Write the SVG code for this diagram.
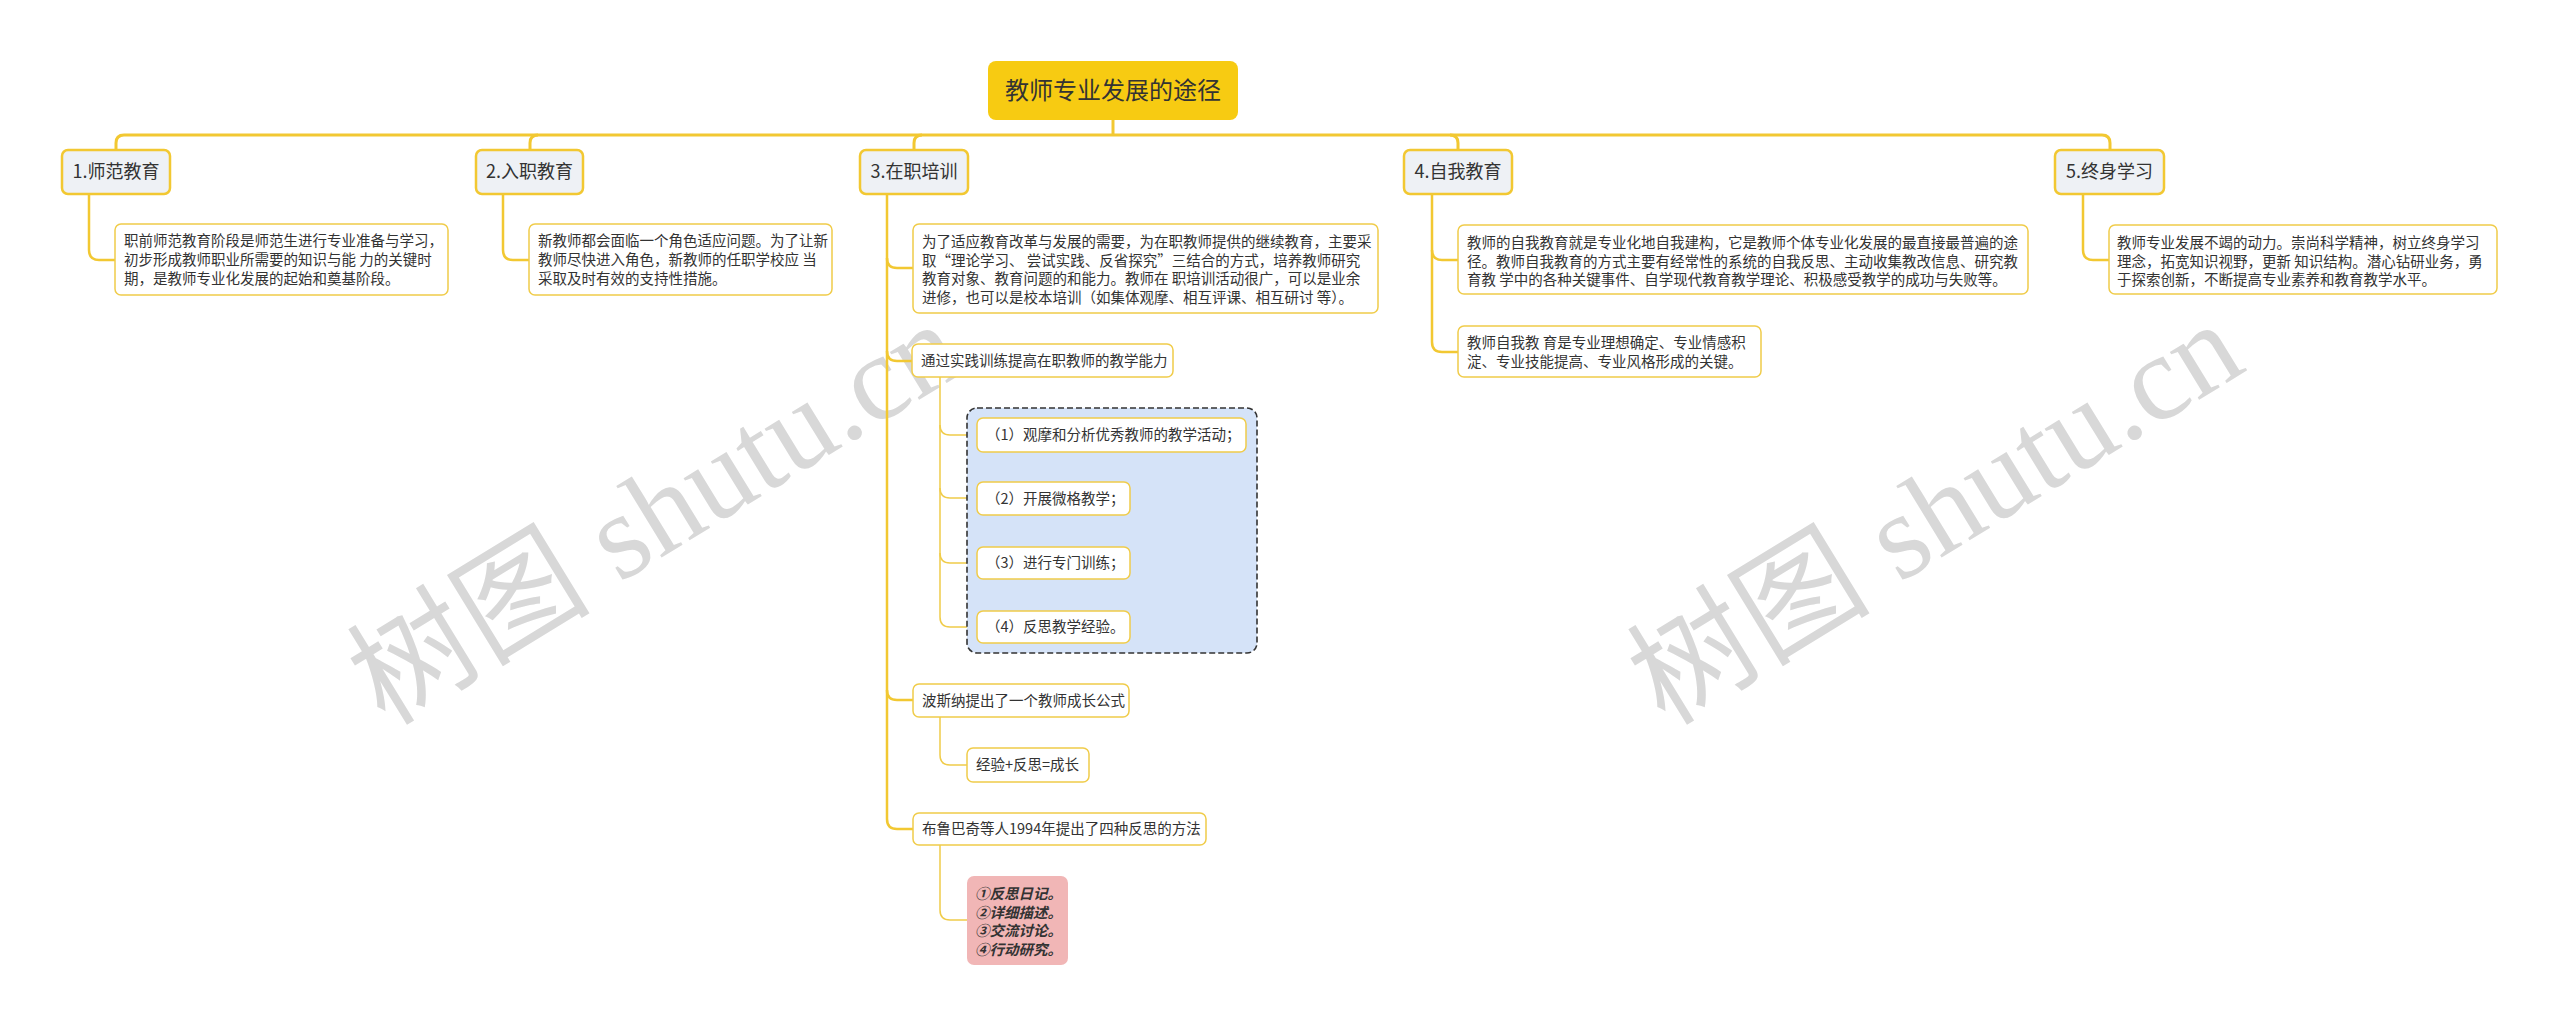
<svg xmlns="http://www.w3.org/2000/svg" width="2560" height="1027" viewBox="0 0 2560 1027">
<style>
text{font-family:"Noto Sans CJK SC","Noto Sans",sans-serif;fill:#333}
.root{fill:#f7cb12}
.rt{font-size:24px;text-anchor:middle}
.main{fill:#eef1f5;stroke:#f2c832;stroke-width:2.5}
.mt{font-size:18px;text-anchor:middle}
.box{fill:#fff;stroke:#f0cc4a;stroke-width:1.5}
.t{font-size:14.5px}
.c1{fill:none;stroke:#f2c832;stroke-width:3}
.c2{fill:none;stroke:#f2c832;stroke-width:2.5}
.c3{fill:none;stroke:#f0cc4a;stroke-width:1.5}
.grp{fill:#d5e3f8;stroke:#333;stroke-width:1.6;stroke-dasharray:6 3}
.pink{fill:#f1b6b6}
.pt{font-size:14.5px;font-weight:bold;font-style:italic}
.wm{font-family:"Liberation Serif","Noto Sans CJK SC",serif;font-size:122px;fill:#d8d8d8;text-anchor:middle}
</style>
<g id="watermarks">
<text class="wm" transform="translate(656,514) rotate(-31.5)" y="40">树图 shutu.cn</text>
<text class="wm" transform="translate(1936,514) rotate(-31.5)" y="40">树图 shutu.cn</text>
</g>
<g id="connectors">
<path class="c1" d="M1113,120 V135"/>
<path class="c1" d="M116,150 V143 Q116,135 124,135 H2102 Q2110,135 2110,143 V150"/>
<path class="c1" d="M530,150 V143 Q530,135 538,135"/>
<path class="c1" d="M914,150 V143 Q914,135 922,135"/>
<path class="c1" d="M1458,150 V143 Q1458,135 1450,135"/>
<path class="c2" d="M89,194 V250 Q89,260 99,260 H115"/>
<path class="c2" d="M503,194 V250 Q503,260 513,260 H529"/>
<path class="c2" d="M887,194 V819 Q887,829 897,829 H913"/>
<path class="c2" d="M887,258 Q887,268 897,268 H913"/>
<path class="c2" d="M887,351 Q887,361 897,361 H912"/>
<path class="c2" d="M887,690 Q887,700 897,700 H913"/>
<path class="c2" d="M1432,194 V342 Q1432,352 1442,352 H1458"/>
<path class="c2" d="M1432,250 Q1432,260 1442,260 H1458"/>
<path class="c2" d="M2083,194 V250 Q2083,260 2093,260 H2109"/>
<path class="c3" d="M940,377 V617 Q940,627 950,627 H977"/>
<path class="c3" d="M940,425 Q940,435 950,435 H977"/>
<path class="c3" d="M940,488 Q940,498 950,498 H977"/>
<path class="c3" d="M940,553 Q940,563 950,563 H977"/>
<path class="c3" d="M940,717 V755 Q940,765 950,765 H967"/>
<path class="c3" d="M940,845 V910 Q940,920 950,920 H967"/>
</g>
<g id="root">
<rect class="root" x="988" y="61" width="250" height="59" rx="8"/>
<text class="rt" x="1113" y="99">教师专业发展的途径</text>
</g>
<g id="n1">
<rect class="main" x="62" y="150" width="108" height="44" rx="6"/>
<text class="mt" x="116" y="178">1.师范教育</text>
</g>
<g id="n1c">
<rect class="box" x="115" y="224" width="333" height="71" rx="6"/>
<text class="t" x="124" y="246">职前师范教育阶段是师范生进行专业准备与学习，</text>
<text class="t" x="124" y="265">初步形成教师职业所需要的知识与能 力的关键时</text>
<text class="t" x="124" y="283.5">期，是教师专业化发展的起始和奠基阶段。</text>
</g>
<g id="n2">
<rect class="main" x="476" y="150" width="107" height="44" rx="6"/>
<text class="mt" x="529.5" y="178">2.入职教育</text>
</g>
<g id="n2c">
<rect class="box" x="529" y="224" width="303" height="71" rx="6"/>
<text class="t" x="538" y="246">新教师都会面临一个角色适应问题。为了让新</text>
<text class="t" x="538" y="265">教师尽快进入角色，新教师的任职学校应 当</text>
<text class="t" x="538" y="283.5">采取及时有效的支持性措施。</text>
</g>
<g id="n3">
<rect class="main" x="860" y="150" width="108" height="44" rx="6"/>
<text class="mt" x="914" y="178">3.在职培训</text>
</g>
<g id="n3c">
<rect class="box" x="913" y="224" width="465" height="89" rx="6"/>
<text class="t" x="922" y="247">为了适应教育改革与发展的需要，为在职教师提供的继续教育，主要采</text>
<text class="t" x="922" y="266">取“理论学习、 尝试实践、反省探究”三结合的方式，培养教师研究</text>
<text class="t" x="922" y="284">教育对象、教育问题的和能力。教师在 职培训活动很广，可以是业余</text>
<text class="t" x="922" y="303">进修，也可以是校本培训（如集体观摩、相互评课、相互研讨 等）。</text>
</g>
<g id="s1">
<rect class="box" x="912" y="344" width="261" height="33" rx="6"/>
<text class="t" x="921" y="366">通过实践训练提高在职教师的教学能力</text>
</g>
<g id="grp">
<rect class="grp" x="967" y="408" width="290" height="245" rx="10"/>
</g>
<g id="s1a">
<rect class="box" x="977" y="418" width="269" height="34" rx="6"/>
<text class="t" x="986" y="440">（1）观摩和分析优秀教师的教学活动；</text>
</g>
<g id="s1b">
<rect class="box" x="977" y="482" width="153" height="33" rx="6"/>
<text class="t" x="986" y="503.5">（2）开展微格教学；</text>
</g>
<g id="s1c">
<rect class="box" x="977" y="547" width="153" height="32" rx="6"/>
<text class="t" x="986" y="568">（3）进行专门训练；</text>
</g>
<g id="s1d">
<rect class="box" x="977" y="611" width="153" height="32" rx="6"/>
<text class="t" x="986" y="632">（4）反思教学经验。</text>
</g>
<g id="s2">
<rect class="box" x="913" y="684" width="216" height="33" rx="6"/>
<text class="t" x="922" y="705.5">波斯纳提出了一个教师成长公式</text>
</g>
<g id="s2a">
<rect class="box" x="967" y="748" width="122" height="34" rx="6"/>
<text class="t" x="976" y="770">经验+反思=成长</text>
</g>
<g id="s3">
<rect class="box" x="913" y="813" width="293" height="32" rx="6"/>
<text class="t" x="922" y="834">布鲁巴奇等人1994年提出了四种反思的方法</text>
</g>
<g id="s3a">
<rect class="pink" x="967" y="876" width="101" height="89" rx="7"/>
<text class="pt" x="975" y="899">①反思日记。</text>
<text class="pt" x="975" y="917.5">②详细描述。</text>
<text class="pt" x="975" y="936">③交流讨论。</text>
<text class="pt" x="975" y="954.5">④行动研究。</text>
</g>
<g id="n4">
<rect class="main" x="1404" y="150" width="108" height="44" rx="6"/>
<text class="mt" x="1458" y="178">4.自我教育</text>
</g>
<g id="n4c1">
<rect class="box" x="1458" y="225" width="570" height="69" rx="6"/>
<text class="t" x="1467" y="248">教师的自我教育就是专业化地自我建构，它是教师个体专业化发展的最直接最普遍的途</text>
<text class="t" x="1467" y="266.5">径。教师自我教育的方式主要有经常性的系统的自我反思、主动收集教改信息、研究教</text>
<text class="t" x="1467" y="285">育教 学中的各种关键事件、自学现代教育教学理论、积极感受教学的成功与失败等。</text>
</g>
<g id="n4c2">
<rect class="box" x="1458" y="326" width="303" height="51" rx="6"/>
<text class="t" x="1467" y="348">教师自我教 育是专业理想确定、专业情感积</text>
<text class="t" x="1467" y="366.5">淀、专业技能提高、专业风格形成的关键。</text>
</g>
<g id="n5">
<rect class="main" x="2055" y="150" width="109" height="44" rx="6"/>
<text class="mt" x="2109.5" y="178">5.终身学习</text>
</g>
<g id="n5c">
<rect class="box" x="2109" y="225" width="388" height="69" rx="6"/>
<text class="t" x="2117" y="248">教师专业发展不竭的动力。崇尚科学精神，树立终身学习</text>
<text class="t" x="2117" y="266.5">理念，拓宽知识视野，更新 知识结构。潜心钻研业务，勇</text>
<text class="t" x="2117" y="285">于探索创新，不断提高专业素养和教育教学水平。</text>
</g>
</svg>
